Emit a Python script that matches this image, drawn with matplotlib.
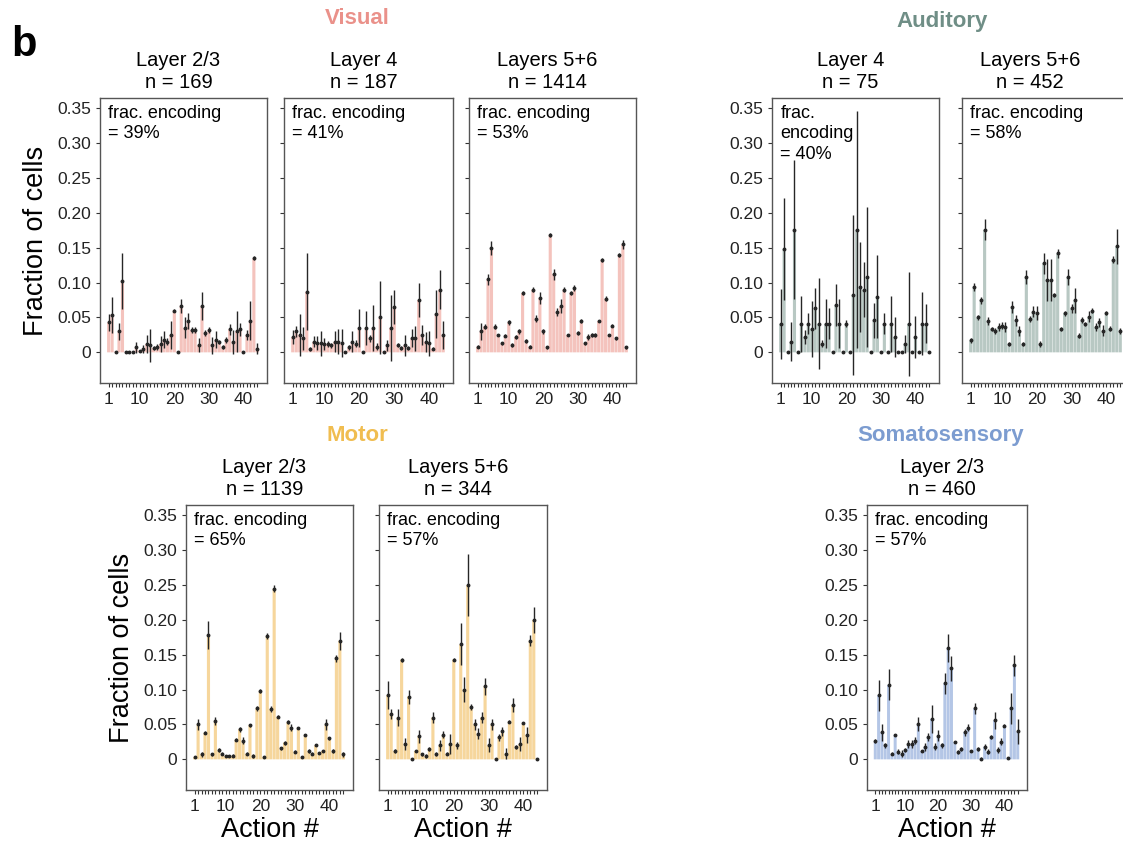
import numpy as np
import matplotlib.pyplot as plt

plt.rcParams['font.family'] = ['Liberation Sans', 'DejaVu Sans']

# action index (same for every panel)
actions = np.arange(1, 45)

# fraction of cells per action, mean and error
vis_l23_mean = [0.043, 0.054, 0.001, 0.030, 0.102, 0.001, 0.001, 0.001, 0.007, 0.002,
                0.005, 0.012, 0.010, 0.006, 0.008, 0.012, 0.018, 0.015, 0.025, 0.060,
                0.001, 0.067, 0.035, 0.045, 0.032, 0.032, 0.010, 0.066, 0.028, 0.032,
                0.010, 0.018, 0.015, 0.008, 0.018, 0.033, 0.015, 0.030, 0.033, 0.001,
                0.025, 0.045, 0.135, 0.005]
vis_l23_err = [0.012, 0.026, 0, 0.012, 0.040, 0, 0, 0, 0.008, 0,
               0.006, 0.013, 0.024, 0.003, 0.004, 0.012, 0.012, 0.005, 0.020, 0.002,
               0, 0.010, 0.015, 0.012, 0.004, 0.004, 0.010, 0.020, 0.004, 0.004,
               0.012, 0.012, 0.003, 0.003, 0.004, 0.008, 0.017, 0.030, 0.009, 0,
               0.007, 0.028, 0.003, 0.008]

vis_l4_mean = [0.022, 0.030, 0.025, 0.020, 0.087, 0.005, 0.015, 0.013, 0.013, 0.012,
               0.012, 0.010, 0.015, 0.015, 0.013, 0.001, 0.007, 0.015, 0.012, 0.035,
               0.001, 0.035, 0.020, 0.035, 0.008, 0.050, 0.001, 0.010, 0.035, 0.065,
               0.010, 0.006, 0.010, 0.006, 0.020, 0.020, 0.075, 0.025, 0.015, 0.013,
               0.005, 0.055, 0.090, 0.025]
vis_l4_err = [0.010, 0.008, 0.030, 0.017, 0.055, 0.003, 0.008, 0.010, 0.018, 0.009,
              0.004, 0.004, 0.015, 0.018, 0.020, 0, 0.004, 0.015, 0.005, 0.027,
              0, 0.025, 0.005, 0.033, 0.005, 0.053, 0, 0.008, 0.047, 0.025,
              0.003, 0.003, 0.015, 0.003, 0.013, 0.018, 0.024, 0.014, 0.014, 0.018,
              0.002, 0.035, 0.028, 0.020]

vis_l56_mean = [0.008, 0.030, 0.037, 0.105, 0.150, 0.037, 0.025, 0.013, 0.024, 0.043,
                0.010, 0.022, 0.030, 0.085, 0.016, 0.008, 0.090, 0.048, 0.078, 0.030,
                0.007, 0.168, 0.112, 0.058, 0.066, 0.090, 0.025, 0.085, 0.092, 0.028,
                0.045, 0.013, 0.022, 0.025, 0.025, 0.045, 0.133, 0.077, 0.025, 0.038,
                0.020, 0.140, 0.155, 0.007]
vis_l56_err = [0.002, 0.012, 0.003, 0.008, 0.010, 0.004, 0.002, 0.002, 0.002, 0.004,
               0.003, 0.003, 0.003, 0.003, 0.003, 0.002, 0.004, 0.005, 0.008, 0.004,
               0.002, 0.003, 0.008, 0.006, 0.010, 0.004, 0.002, 0.003, 0.004, 0.003,
               0.003, 0.002, 0.004, 0.003, 0.003, 0.002, 0.003, 0.004, 0.002, 0.002,
               0.002, 0.003, 0.006, 0.002]

aud_l4_mean = [0.041, 0.148, 0.001, 0.015, 0.176, 0.001, 0.041, 0.022, 0.041, 0.034,
               0.063, 0.041, 0.012, 0.041, 0.041, 0.001, 0.068, 0.041, 0.001, 0.041,
               0.001, 0.082, 0.176, 0.094, 0.090, 0.108, 0.001, 0.046, 0.080, 0.001,
               0.041, 0.001, 0.041, 0.022, 0.001, 0.001, 0.012, 0.041, 0.001, 0.022,
               0.001, 0.041, 0.041, 0.001]
aud_l4_err = [0.050, 0.073, 0, 0.028, 0.100, 0, 0.040, 0.010, 0.015, 0.040,
              0.030, 0.065, 0.005, 0.035, 0.022, 0, 0.030, 0.035, 0, 0.005,
              0, 0.115, 0.170, 0.065, 0.040, 0.100, 0, 0.025, 0.060, 0,
              0.015, 0, 0.040, 0.028, 0, 0, 0.013, 0.075, 0, 0.030,
              0, 0.045, 0.028, 0]

aud_l56_mean = [0.017, 0.094, 0.050, 0.075, 0.176, 0.045, 0.034, 0.031, 0.036, 0.038,
                0.036, 0.012, 0.065, 0.046, 0.031, 0.012, 0.108, 0.048, 0.058, 0.056,
                0.012, 0.128, 0.104, 0.104, 0.082, 0.142, 0.034, 0.056, 0.108, 0.063,
                0.075, 0.024, 0.046, 0.041, 0.051, 0.060, 0.036, 0.043, 0.031, 0.056,
                0.034, 0.133, 0.152, 0.031]
aud_l56_err = [0.004, 0.006, 0.004, 0.005, 0.015, 0.006, 0.003, 0.004, 0.006, 0.005,
               0.007, 0.003, 0.008, 0.008, 0.007, 0.003, 0.010, 0.004, 0.008, 0.010,
               0.004, 0.015, 0.030, 0.030, 0.003, 0.006, 0.003, 0.004, 0.012, 0.007,
               0.018, 0.004, 0.004, 0.003, 0.008, 0.003, 0.006, 0.006, 0.008, 0.003,
               0.004, 0.005, 0.025, 0.004]

mot_l23_mean = [0.003, 0.050, 0.007, 0.038, 0.178, 0.007, 0.055, 0.013, 0.008, 0.005,
                0.005, 0.005, 0.028, 0.043, 0.027, 0.008, 0.049, 0.005, 0.073, 0.098,
                0.003, 0.177, 0.072, 0.245, 0.061, 0.016, 0.024, 0.053, 0.045, 0.011,
                0.045, 0.003, 0.035, 0.012, 0.008, 0.020, 0.009, 0.012, 0.050, 0.030,
                0.012, 0.145, 0.170, 0.007]
mot_l23_err = [0.001, 0.008, 0.003, 0.002, 0.020, 0.002, 0.006, 0.003, 0.002, 0.001,
               0.001, 0.002, 0.002, 0.004, 0.005, 0.002, 0.002, 0.003, 0.003, 0.003,
               0.001, 0.005, 0.004, 0.005, 0.002, 0.002, 0.003, 0.003, 0.005, 0.002,
               0.001, 0.001, 0.002, 0.003, 0.002, 0.001, 0.002, 0.002, 0.008, 0.002,
               0.003, 0.005, 0.013, 0.003]

mot_l56_mean = [0.092, 0.065, 0.012, 0.060, 0.143, 0.022, 0.090, 0.001, 0.012, 0.033,
                0.007, 0.005, 0.015, 0.060, 0.008, 0.020, 0.035, 0.008, 0.022, 0.143,
                0.020, 0.165, 0.100, 0.250, 0.075, 0.050, 0.037, 0.060, 0.105, 0.020,
                0.050, 0.001, 0.032, 0.040, 0.008, 0.054, 0.078, 0.018, 0.022, 0.052,
                0.035, 0.170, 0.200, 0.001]
mot_l56_err = [0.020, 0.007, 0.003, 0.012, 0.003, 0.008, 0.010, 0, 0.002, 0.009,
               0.002, 0.003, 0.003, 0.008, 0.003, 0.008, 0.005, 0.002, 0.015, 0.002,
               0.005, 0.030, 0.018, 0.045, 0.004, 0.008, 0.008, 0.008, 0.012, 0.010,
               0.008, 0, 0.005, 0.006, 0.008, 0.002, 0.010, 0.003, 0.010, 0.002,
               0.012, 0.008, 0.018, 0]

som_l23_mean = [0.026, 0.092, 0.039, 0.020, 0.107, 0.008, 0.035, 0.011, 0.008, 0.013,
                0.022, 0.022, 0.027, 0.051, 0.012, 0.018, 0.032, 0.058, 0.018, 0.034,
                0.020, 0.109, 0.160, 0.131, 0.025, 0.010, 0.015, 0.039, 0.045, 0.012,
                0.073, 0.015, 0.001, 0.018, 0.011, 0.032, 0.056, 0.013, 0.025, 0.048,
                0.002, 0.073, 0.135, 0.040]
som_l23_err = [0.003, 0.022, 0.012, 0.004, 0.022, 0.002, 0.002, 0.004, 0.005, 0.003,
               0.006, 0.006, 0.005, 0.010, 0.002, 0.006, 0.006, 0.020, 0.005, 0.008,
               0.004, 0.015, 0.020, 0.018, 0.002, 0.003, 0.003, 0.005, 0.005, 0.002,
               0.008, 0.003, 0.002, 0.004, 0.004, 0.003, 0.012, 0.004, 0.005, 0.002,
               0.002, 0.022, 0.015, 0.018]

yticks = [0, 0.05, 0.10, 0.15, 0.20, 0.25, 0.30, 0.35]
ytick_labels = ['0', '0.05', '0.10', '0.15', '0.20', '0.25', '0.30', '0.35']
xticks = [1, 10, 20, 30, 40]

vis_bar, vis_title = '#F4C3BD', '#EA918A'
aud_bar, aud_title = '#B8C8C3', '#6F8E86'
mot_bar, mot_title = '#F6D69C', '#F0BD50'
som_bar, som_title = '#B4C6E6', '#7C9CD0'

W, H = 1123, 842
fig = plt.figure(figsize=(W / 100, H / 100), dpi=100)


def panel(box, mean, err, color, title, frac, ylabels=False, ylabel=None,
          xlabel=None, title_x=0.47):
    left, top, right, bottom = box
    ax = fig.add_axes([left / W, 1 - bottom / H, (right - left) / W, (bottom - top) / H])
    bars = ax.bar(actions, mean, width=0.9, color=color, linewidth=0)
    for b in bars:
        b.set_snap(False)
    ax.errorbar(actions, mean, yerr=err, fmt='o', ms=1.8, color='#262626',
                elinewidth=1.0, capsize=0)
    ax.set_xlim(-1.5, 46.8)
    ax.set_ylim(-0.044, 0.365)
    ax.set_xticks(xticks)
    ax.set_xticks(actions, minor=True)
    ax.set_yticks(yticks)
    ax.set_yticklabels(ytick_labels)
    ax.tick_params(which='both', direction='out', length=3, width=0.8,
                   labelsize=12.5, color='#333333', labelcolor='#222222')
    if not ylabels:
        ax.tick_params(axis='y', labelleft=False)
    for s in ax.spines.values():
        s.set_color('#555555')
        s.set_linewidth(1.0)
    ax.set_title(title, fontsize=14.5, x=title_x, pad=7, linespacing=1.25)
    ax.text(0.05, 0.975, frac, transform=ax.transAxes, va='top', ha='left',
            fontsize=13, linespacing=1.25)
    if ylabel:
        ax.set_ylabel(ylabel, fontsize=19.5, labelpad=6)
    if xlabel:
        ax.set_xlabel(xlabel, fontsize=19.5, labelpad=2)
    return ax


# top row
panel((100, 98, 267, 383), vis_l23_mean, vis_l23_err, vis_bar,
      'Layer 2/3\nn = 169', 'frac. encoding\n= 39%', ylabels=True,
      ylabel='Fraction of cells')
panel((284, 98, 453, 383), vis_l4_mean, vis_l4_err, vis_bar,
      'Layer 4\nn = 187', 'frac. encoding\n= 41%')
panel((469, 98, 636, 383), vis_l56_mean, vis_l56_err, vis_bar,
      'Layers 5+6\nn = 1414', 'frac. encoding\n= 53%')
panel((772, 98, 939, 383), aud_l4_mean, aud_l4_err, aud_bar,
      'Layer 4\nn = 75', 'frac.\nencoding\n= 40%', ylabels=True)
panel((962, 98, 1130, 383), aud_l56_mean, aud_l56_err, aud_bar,
      'Layers 5+6\nn = 452', 'frac. encoding\n= 58%', title_x=0.405)

# bottom row
panel((186, 505, 353, 790), mot_l23_mean, mot_l23_err, mot_bar,
      'Layer 2/3\nn = 1139', 'frac. encoding\n= 65%', ylabels=True,
      ylabel='Fraction of cells', xlabel='Action #')
panel((379, 505, 547, 790), mot_l56_mean, mot_l56_err, mot_bar,
      'Layers 5+6\nn = 344', 'frac. encoding\n= 57%', xlabel='Action #')
panel((867, 505, 1027, 790), som_l23_mean, som_l23_err, som_bar,
      'Layer 2/3\nn = 460', 'frac. encoding\n= 57%', ylabels=True,
      xlabel='Action #')

# group headers
fig.text(357 / W, 1 - 19 / H, 'Visual', color=vis_title, fontsize=16,
         fontweight='bold', ha='center', va='center')
fig.text(942 / W, 1 - 22 / H, 'Auditory', color=aud_title, fontsize=16,
         fontweight='bold', ha='center', va='center')
fig.text(357 / W, 1 - 435 / H, 'Motor', color=mot_title, fontsize=16,
         fontweight='bold', ha='center', va='center')
fig.text(941 / W, 1 - 436 / H, 'Somatosensory', color=som_title, fontsize=16,
         fontweight='bold', ha='center', va='center')
fig.text(24 / W, 1 - 45 / H, 'b', fontsize=30, fontweight='bold',
         ha='center', va='center')

fig.savefig('out.png', dpi=100)
